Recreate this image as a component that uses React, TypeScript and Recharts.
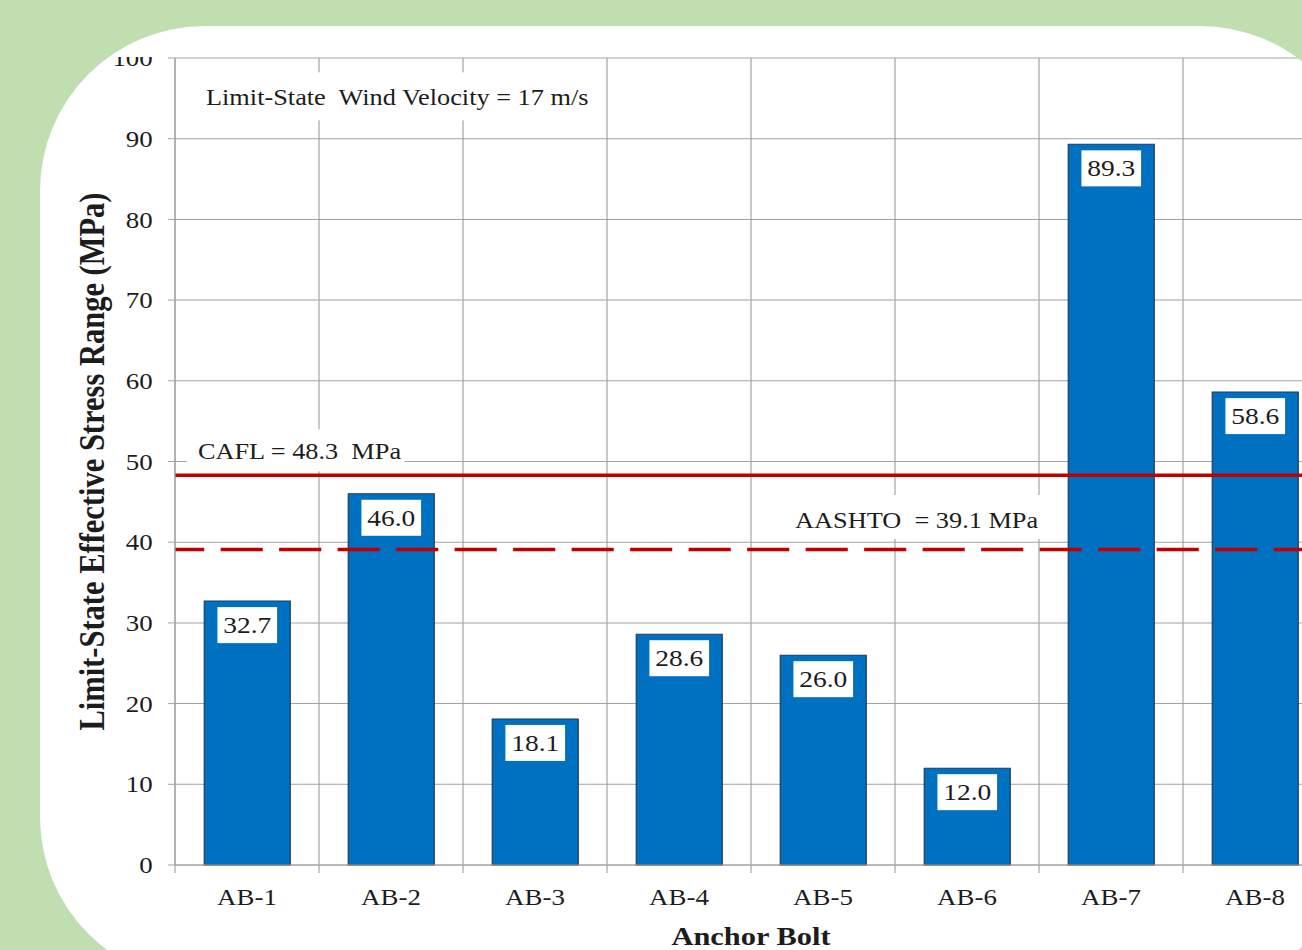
import {
  BarChart,
  Bar,
  XAxis,
  YAxis,
  CartesianGrid,
  ReferenceLine,
  LabelList,
  Label,
} from "recharts";

// values
const bolts = ["AB-1", "AB-2", "AB-3", "AB-4", "AB-5", "AB-6", "AB-7", "AB-8"];
const stressRange = [32.7, 46.0, 18.1, 28.6, 26.0, 12.0, 89.3, 58.6];
const yTicks = [0, 10, 20, 30, 40, 50, 60, 70, 80, 90, 100];
const yMinorTicks = [
  2, 4, 6, 8, 12, 14, 16, 18, 22, 24, 26, 28, 32, 34, 36, 38, 42, 44, 46, 48,
  52, 54, 56, 58, 62, 64, 66, 68, 72, 74, 76, 78, 82, 84, 86, 88, 92, 94, 96, 98,
];
const caflLimit = 48.3;
const aashtoLimit = 39.1;
const windNoteLevel = 95;
const windNote = "Limit-State  Wind Velocity = 17 m/s";
const caflNote = "CAFL = 48.3  MPa";
const aashtoNote = "AASHTO  = 39.1 MPa";

const data = bolts.map((name, i) => ({ name, value: stressRange[i] }));

// the original picture is stretched sideways
const STRETCH = 1.17;
const CHART_W = 1145;
const CHART_H = 950;
const PLOT_LEFT = 175 / STRETCH;
const PLOT_RIGHT = 1327 / STRETCH;
const BAND = (PLOT_RIGHT - PLOT_LEFT) / bolts.length;
const serif = '"Liberation Serif", "Times New Roman", serif';
const GRID = "#a3a3a3";
const INK = "#1c1c1c";

function Note(props: any) {
  const vb = props.viewBox || {};
  const { text, dx, dy, bx, by, bw, bh } = props;
  return (
    <g>
      <rect x={vb.x + bx} y={vb.y + by} width={bw} height={bh} fill="#fff" />
      <text
        x={vb.x + dx}
        y={vb.y + dy}
        dominantBaseline="central"
        fontFamily={serif}
        fontSize={22.5}
        fill={INK}
        style={{ whiteSpace: "pre" }}
      >
        {text}
      </text>
    </g>
  );
}

function BarValue(props: any) {
  const vb = props.viewBox ?? props;
  const cx = vb.x + vb.width / 2;
  const top = vb.y + 6;
  return (
    <g>
      <rect x={cx - 25.5} y={top} width={51} height={36} fill="#fff" />
      <text
        x={cx}
        y={top + 18}
        textAnchor="middle"
        dominantBaseline="central"
        fontFamily={serif}
        fontSize={23.5}
        fill={INK}
      >
        {Number(props.value).toFixed(1)}
      </text>
    </g>
  );
}

// category label plus the tick marks on the band edges
function BoltTick(props: any) {
  const { x, y, payload, index } = props;
  const left = x - BAND / 2;
  const last = index === bolts.length - 1;
  return (
    <g>
      <line x1={left} x2={left} y1={y - 24} y2={y - 16} stroke={GRID} />
      {last && <line x1={left + BAND} x2={left + BAND} y1={y - 24} y2={y - 16} stroke={GRID} />}
      <text
        x={x}
        y={y}
        dy="0.71em"
        textAnchor="middle"
        fontFamily={serif}
        fontSize={23}
        fill={INK}
      >
        {payload.value}
      </text>
    </g>
  );
}

function YTitle(props: any) {
  const vb = props.viewBox || {};
  const cx = vb.x + 92 / STRETCH;
  const cy = vb.y + vb.height / 2;
  return (
    <text
      x={cx}
      y={cy}
      transform={`rotate(-90 ${cx} ${cy})`}
      textAnchor="middle"
      dominantBaseline="central"
      fontFamily={serif}
      fontWeight={700}
      fontSize={30.5}
      fill={INK}
    >
      Limit-State Effective Stress Range (MPa)
    </text>
  );
}

export default function App() {
  return (
    <div
      style={{
        position: "fixed",
        left: 0,
        top: 0,
        width: 1302,
        height: 950,
        background: "#c0deb0",
        overflow: "hidden",
      }}
    >
      <div
        style={{
          position: "absolute",
          left: 40,
          top: 26,
          width: 1325,
          height: 956,
          borderRadius: 165,
          background: "#fff",
          overflow: "hidden",
        }}
      >
        <div
          style={{
            position: "absolute",
            left: 0,
            top: 31,
            right: 0,
            bottom: 0,
            overflow: "hidden",
          }}
        >
          <div
            style={{
              position: "absolute",
              left: -40,
              top: -57,
              width: CHART_W,
              height: CHART_H,
              transform: `scaleX(${STRETCH})`,
              transformOrigin: "0 0",
            }}
          >
            <BarChart
              width={CHART_W}
              height={CHART_H}
              data={data}
              margin={{ top: 58, right: CHART_W - PLOT_RIGHT, bottom: 5, left: 0 }}
              barSize={73.5}
            >
              <CartesianGrid
                stroke={GRID}
                verticalCoordinatesGenerator={({ offset }: any) =>
                  [0, 1, 2, 3, 4, 5, 6, 7, 8].map(
                    (i) => offset.left + (offset.width * i) / bolts.length
                  )
                }
              />
              <XAxis
                dataKey="name"
                height={80}
                interval={0}
                tickLine={false}
                tickSize={0}
                tickMargin={24}
                axisLine={{ stroke: GRID }}
                tick={(p: any) => <BoltTick {...p} />}
              >
                <Label
                  value="Anchor Bolt"
                  position="insideBottom"
                  offset={0}
                  style={{ fontFamily: serif, fontSize: 26, fontWeight: 700, fill: INK }}
                />
              </XAxis>
              <YAxis
                yAxisId="minor"
                domain={[0, 100]}
                ticks={yMinorTicks}
                width={0}
                tick={false}
                axisLine={false}
                tickSize={4}
                tickLine={{ stroke: GRID }}
              />
              <YAxis
                domain={[0, 100]}
                ticks={yTicks}
                width={PLOT_LEFT}
                tickSize={6}
                tickMargin={13}
                axisLine={{ stroke: GRID }}
                tickLine={{ stroke: GRID }}
                tick={{ fontFamily: serif, fontSize: 23, fill: INK }}
              >
                <Label content={(p: any) => <YTitle {...p} />} />
              </YAxis>
              <Bar
                dataKey="value"
                fill="#0070c0"
                stroke="#1f3864"
                strokeWidth={1}
                isAnimationActive={false}
              >
                <LabelList dataKey="value" content={(p: any) => <BarValue {...p} />} />
              </Bar>
              <ReferenceLine
                y={windNoteLevel}
                stroke="none"
                label={(p: any) => (
                  <Note {...p} text={windNote} dx={26.5} dy={-1.4} bx={17} by={-26} bw={346} bh={48} />
                )}
              />
              <ReferenceLine
                y={caflLimit}
                stroke="#c00000"
                strokeWidth={3.5}
                label={(p: any) => (
                  <Note {...p} text={caflNote} dx={19.6} dy={-24} bx={10} by={-46} bw={186} bh={42} />
                )}
              />
              <ReferenceLine
                y={aashtoLimit}
                stroke="#c00000"
                strokeWidth={3.5}
                strokeDasharray="36 14"
                strokeDashoffset={11}
                label={(p: any) => (
                  <Note {...p} text={aashtoNote} dx={530} dy={-29.5} bx={525} by={-54.5} bw={216} bh={44} />
                )}
              />
            </BarChart>
          </div>
        </div>
      </div>
    </div>
  );
}
